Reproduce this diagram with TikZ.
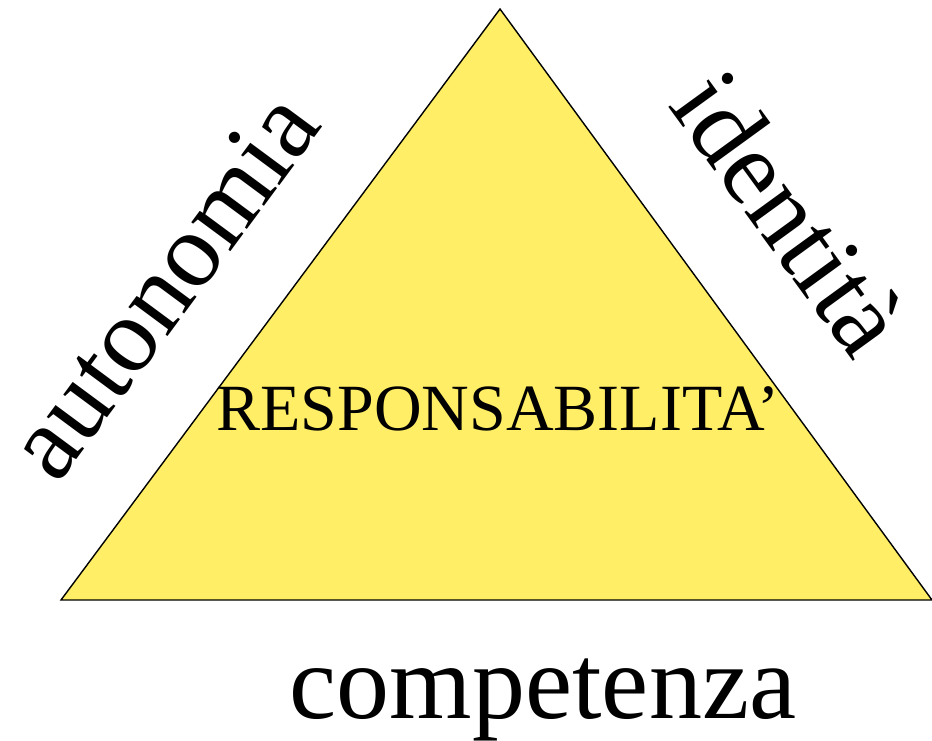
\documentclass[tikz,border=0pt]{standalone}
\usepackage{fontspec}
\setmainfont{Liberation Serif}
\usetikzlibrary{positioning}

\definecolor{triyellow}{RGB}{255,238,102}

\tikzset{
  sidelabel/.style={font=\fontsize{106}{110}\selectfont, inner sep=0pt},
  centrelabel/.style={font=\fontsize{66}{70}\selectfont, inner sep=0pt}
}

\begin{document}
\begin{tikzpicture}[x=1pt, y=-1pt]
  \useasboundingbox (0,0) rectangle (932,741);
  \coordinate (apex) at (500,9);
  \coordinate (left) at (61,600);
  \coordinate (right) at (932,600);
  \draw[fill=triyellow, line width=1.4pt, line join=miter] (apex) -- (left) -- (right) -- cycle;

  \node[centrelabel, anchor=base] (resp) at (498,430) {RESPONSABILITA’};
  \node[sidelabel, anchor=base] (comp) at (543,718) {competenza};
  \node[sidelabel, rotate=53.5] (auto) at (163,285) {autonomia};
  \node[sidelabel, rotate=-54] (iden) at (790,213) {identità};
\end{tikzpicture}
\end{document}
